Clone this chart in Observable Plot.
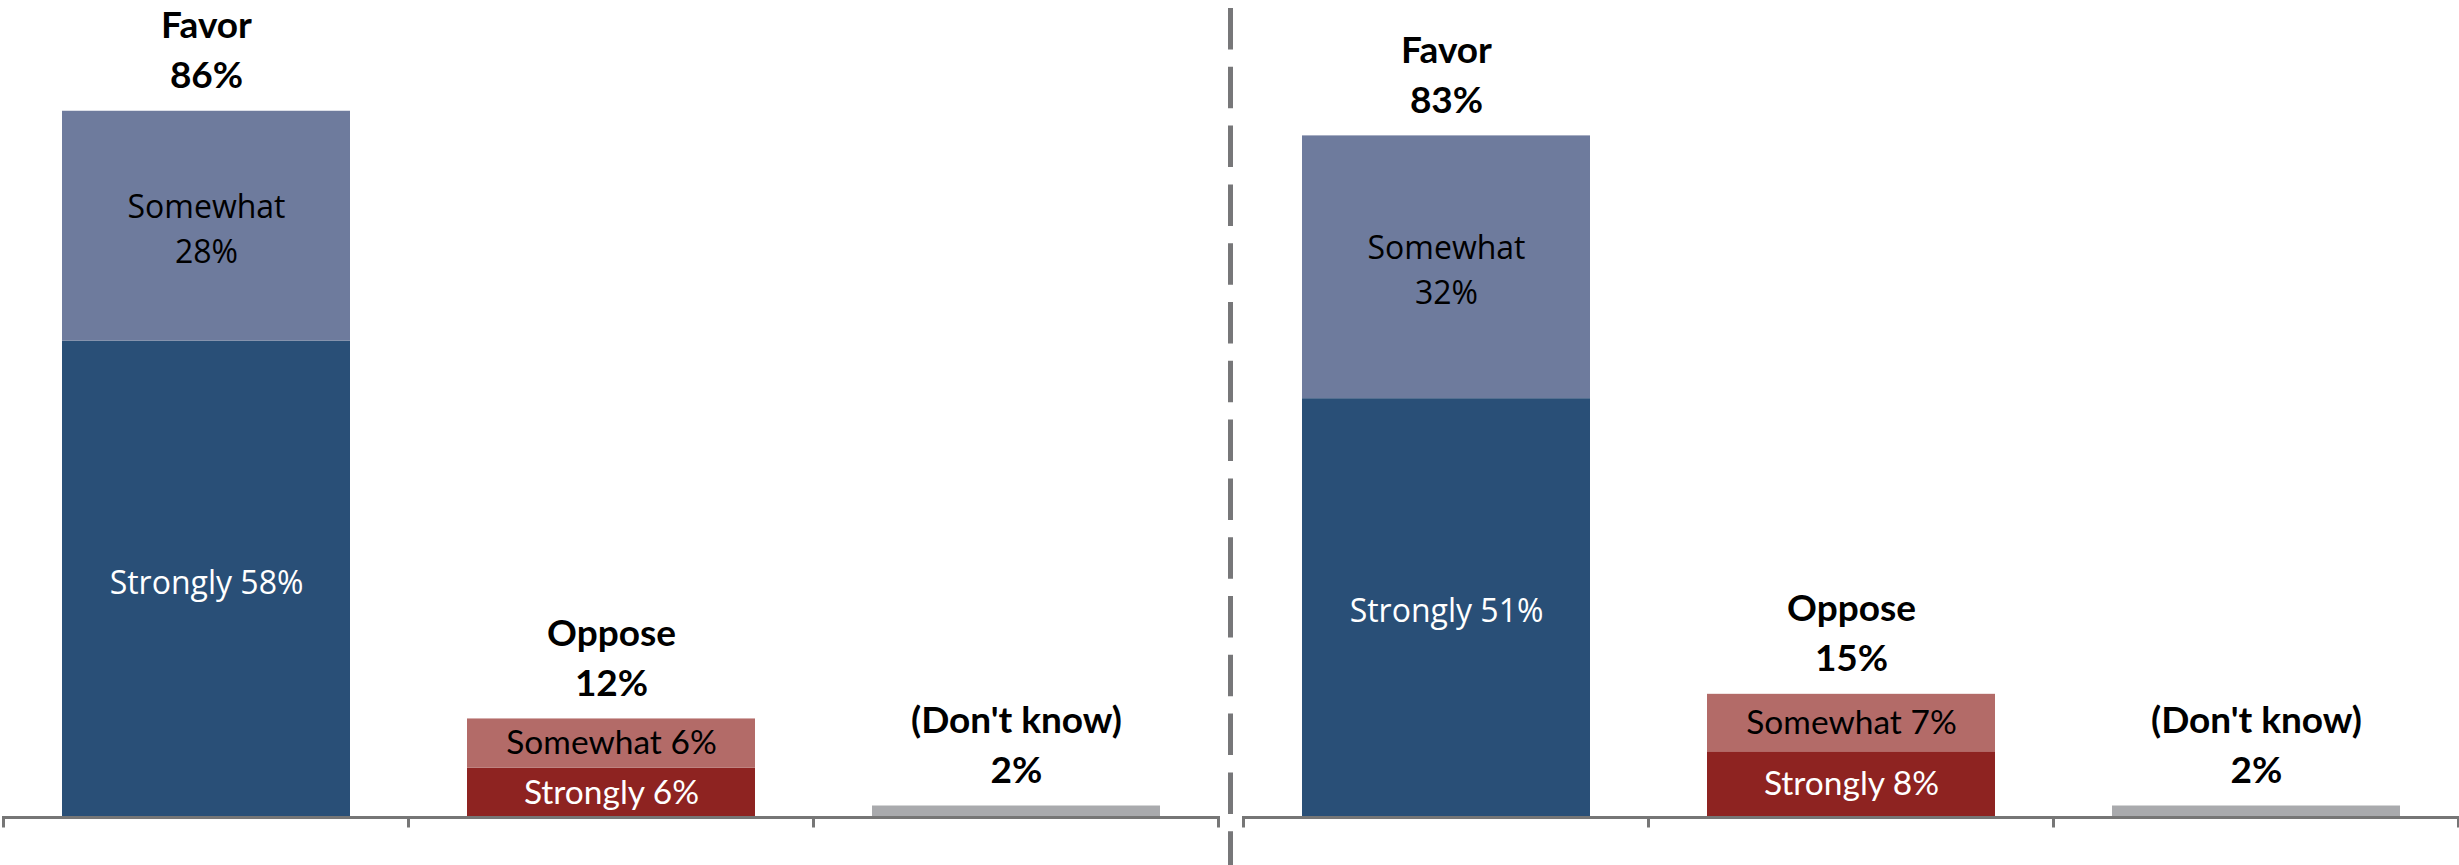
<!DOCTYPE html>
<html>
<head>
<meta charset="utf-8">
<script src="https://cdn.jsdelivr.net/npm/d3@7"></script>
<script src="https://cdn.jsdelivr.net/npm/@observablehq/plot@0.6"></script>
<style>
  html, body { margin: 0; padding: 0; background: #fff; }
  #chart svg { display: block; }
</style>
</head>
<body>
<div id="chart"></div>
<script>
// ---- data ----
const panels = ["left", "right"];
const categories = ["Favor", "Oppose", "(Don't know)"];
const leftStrongly = [58, 6];      // Favor, Oppose
const leftSomewhat = [28, 6];
const leftTotals = [86, 12, 2];    // Favor, Oppose, (Don't know)
const rightStrongly = [51, 8];
const rightSomewhat = [32, 7];
const rightTotals = [83, 15, 2];
const dontKnowBar = [1.4, 1.4];    // drawn bar height for (Don't know), left / right
const colorKeys = ["Favor Strongly", "Favor Somewhat", "Oppose Strongly", "Oppose Somewhat", "Don't know"];
const colorRange = ["#294f77", "#6e7b9d", "#8e2321", "#b36b68", "#a9aaad"];

// ---- tables built from the arrays ----
const segments = [];
const headers = [];
[[leftStrongly, leftSomewhat, leftTotals], [rightStrongly, rightSomewhat, rightTotals]].forEach(([st, sw, tot], p) => {
  const panel = panels[p];
  [0, 1].forEach(i => {
    const cat = categories[i];
    segments.push({panel, cat, level: "Strongly", y1: 0, y2: st[i], key: `${cat} Strongly`,
      label: `Strongly ${st[i]}%`});
    segments.push({panel, cat, level: "Somewhat", y1: st[i], y2: st[i] + sw[i], key: `${cat} Somewhat`,
      label: i === 0 ? `Somewhat\n${sw[i]}%` : `Somewhat ${sw[i]}%`});
    headers.push({panel, cat, top: st[i] + sw[i], label: `${cat}\n${tot[i]}%`});
  });
  segments.push({panel, cat: categories[2], level: "", y1: 0, y2: dontKnowBar[p], key: "Don't know", label: ""});
  headers.push({panel, cat: categories[2], top: dontKnowBar[p], label: `${categories[2]}\n${tot[2]}%`});
});

const mid = d => (d.y1 + d.y2) / 2;
const favorSeg = segments.filter(d => d.cat === "Favor");
const opposeSeg = segments.filter(d => d.cat === "Oppose");

// category axis with ticks at band boundaries (Excel style) + panel divider
let facetCount = 0;
function categoryAxis(index, scales, values, dimensions) {
  const x = scales.x, y = scales.y;
  const bw = x.bandwidth();
  const step = typeof x.step === "function" ? x.step() : bw / (1 - 0.29);
  const pad = (step - bw) / 2;
  const xs = categories.map(c => x(c) - pad);
  xs.push(x(categories[categories.length - 1]) + bw + pad);
  const y0 = y(0);
  const g = d3.create("svg:g").attr("stroke", "#767676").attr("fill", "none");
  g.append("line")
    .attr("x1", xs[0] - 1.5).attr("x2", xs[xs.length - 1] + 1.5)
    .attr("y1", y0 + 0.5).attr("y2", y0 + 0.5)
    .attr("stroke-width", 3);
  g.selectAll("line.tick").data(xs).join("line").attr("class", "tick")
    .attr("x1", d => d).attr("x2", d => d)
    .attr("y1", y0 + 0.5).attr("y2", y0 + 10.5)
    .attr("stroke-width", 3);
  if (facetCount++ === 0) {
    const xd = xs[xs.length - 1] + 12;
    g.append("line")
      .attr("x1", xd).attr("x2", xd)
      .attr("y1", y(99) + 4).attr("y2", dimensions.height)
      .attr("stroke", "#777779")
      .attr("stroke-width", 5)
      .attr("stroke-dasharray", "41.5,17.3");
  }
  return g.node();
}

const chart = Plot.plot({
  width: 2459,
  height: 865,
  marginTop: 4,
  marginBottom: 48,
  marginLeft: 3,
  marginRight: 1,
  fx: {domain: panels, axis: null, paddingInner: 0.0202, paddingOuter: 0},
  x: {domain: categories, axis: null, paddingInner: 0.29, paddingOuter: 0.145},
  y: {domain: [0, 99], axis: null},
  color: {domain: colorKeys, range: colorRange},
  style: {fontFamily: "Lato", background: "white", color: "black"},
  marks: [
    Plot.barY(segments, {fx: "panel", x: "cat", y1: "y1", y2: "y2", fill: "key"}),
    // Favor inner labels
    Plot.text(favorSeg.filter(d => d.level === "Strongly"), {
      fx: "panel", x: "cat", y: mid, text: "label", fill: "white",
      fontFamily: "Open Sans", fontSize: 32, lineHeight: 1.4
    }),
    Plot.text(favorSeg.filter(d => d.level === "Somewhat"), {
      fx: "panel", x: "cat", y: mid, text: "label", fill: "black",
      fontFamily: "Open Sans", fontSize: 32, lineHeight: 1.4
    }),
    // Oppose inner labels
    Plot.text(opposeSeg.filter(d => d.level === "Strongly"), {
      fx: "panel", x: "cat", y: mid, text: "label", fill: "white",
      fontFamily: "Lato", fontSize: 33.5
    }),
    Plot.text(opposeSeg.filter(d => d.level === "Somewhat"), {
      fx: "panel", x: "cat", y: mid, text: "label", fill: "black",
      fontFamily: "Lato", fontSize: 33.5
    }),
    // bold headers above bars
    Plot.text(headers, {
      fx: "panel", x: "cat", y: "top", text: "label", lineAnchor: "bottom", dy: -23,
      fill: "black", fontWeight: "bold", fontFamily: "Lato", fontSize: 37, lineHeight: 1.35
    }),
    categoryAxis
  ]
});
document.getElementById("chart").appendChild(chart);
</script>
</body>
</html>
